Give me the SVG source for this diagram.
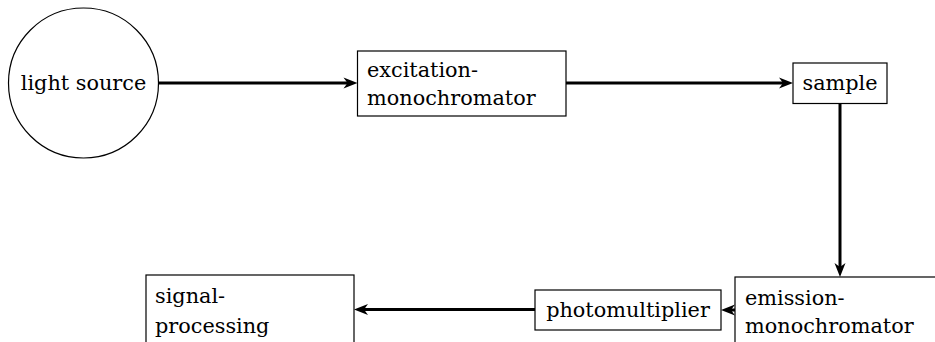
<svg xmlns="http://www.w3.org/2000/svg" width="935" height="342" viewBox="0 0 935 342">
<style>
.n{fill:#fff;stroke:#000;stroke-width:1.2}
.t{font-family:'DejaVu Serif','Liberation Serif',serif;font-size:20.8px;fill:#000}
.c{stroke:#000;stroke-width:3;fill:none;marker-end:url(#ah)}
</style>
<defs>
<marker id="ah" markerUnits="userSpaceOnUse" markerWidth="16" markerHeight="12" refX="6" refY="5.5" orient="auto" overflow="visible">
<path d="M0,0 L14,5.5 L0,11 L4,5.5 Z" fill="#000"/>
</marker>
</defs>
<g id="light-source"><circle class="n" cx="83.5" cy="83" r="75"/><text class="t" x="83.5" y="90" text-anchor="middle">light source</text></g>
<g id="excitation-monochromator"><rect class="n" x="357.5" y="51" width="208.5" height="65"/><text class="t" x="367" y="77">excitation-</text><text class="t" x="367" y="105">monochromator</text></g>
<g id="sample"><rect class="n" x="793" y="63" width="94" height="40.5"/><text class="t" x="840" y="89.5" text-anchor="middle">sample</text></g>
<g id="emission-monochromator"><rect class="n" x="735" y="277" width="215" height="80"/><text class="t" x="745" y="305">emission-</text><text class="t" x="745" y="333">monochromator</text></g>
<g id="photomultiplier"><rect class="n" x="535" y="290" width="186" height="40"/><text class="t" x="628" y="316.5" text-anchor="middle">photomultiplier</text></g>
<g id="signal-processing"><rect class="n" x="146" y="275" width="208" height="80"/><text class="t" x="155" y="303">signal-</text><text class="t" x="155" y="333">processing</text></g>
<g id="connectors">
<line class="c" x1="158.5" y1="83" x2="349.5" y2="83"/>
<line class="c" x1="566" y1="83" x2="785" y2="83"/>
<line class="c" x1="840" y1="103.5" x2="840" y2="269"/>
<line class="c" x1="735" y1="310" x2="729" y2="310"/>
<line class="c" x1="535" y1="309.5" x2="362" y2="309.5"/>
</g>
</svg>
